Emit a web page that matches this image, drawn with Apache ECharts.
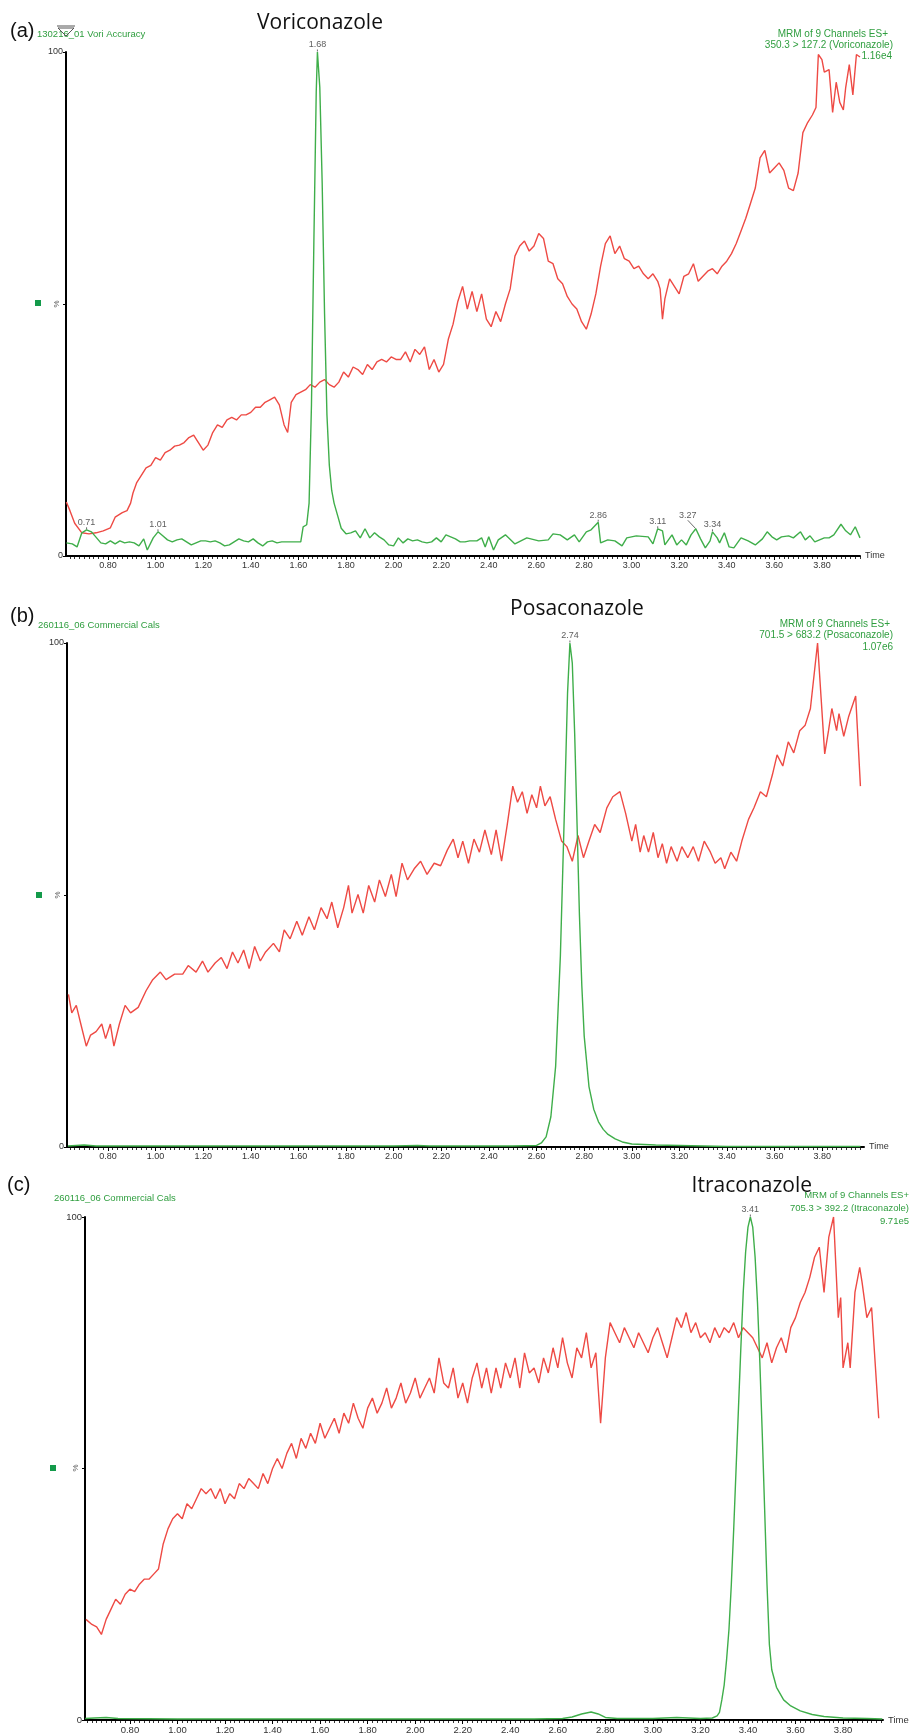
<!DOCTYPE html>
<html><head><meta charset="utf-8">
<script src="https://cdn.jsdelivr.net/npm/echarts@6/dist/echarts.min.js"></script>
<style>html,body{margin:0;padding:0;background:#fff}#c{width:912px;height:1735px}</style>
</head><body><div id="c"></div>
<script>
// ---------- tick labels ----------
const tickLabels = [0.8,1.0,1.2,1.4,1.6,1.8,2.0,2.2,2.4,2.6,2.8,3.0,3.2,3.4,3.6,3.8];
const yLabels = [0, 100];

// ---------- panel (a) Voriconazole ----------
const aRed = [[0.625,10.7],[0.64,9.0],[0.66,6.5],[0.69,4.6],[0.72,4.4],[0.75,4.6],[0.78,5.0],[0.81,5.6],[0.83,7.7],[0.86,8.6],[0.88,9.0],[0.895,10.5],[0.905,12.5],
[0.92,14.5],[0.94,16.0],[0.96,17.5],[0.98,18.0],[1.00,19.5],[1.02,19.0],[1.04,20.5],[1.06,21.0],[1.08,21.8],[1.10,22.0],[1.12,22.5],[1.14,23.5],[1.16,24.0],[1.18,22.5],[1.20,21.0],
[1.22,22.0],[1.24,24.5],[1.26,26.0],[1.28,25.5],[1.30,27.0],[1.32,27.5],[1.34,27.0],[1.36,28.0],[1.38,28.0],[1.40,28.5],[1.42,29.5],[1.44,29.5],[1.46,30.5],[1.48,31.0],[1.50,31.5],
[1.52,30.0],[1.54,26.0],[1.555,24.5],[1.57,30.5],[1.59,32.0],[1.61,32.5],[1.63,33.0],[1.65,34.0],[1.67,33.5],[1.69,34.5],[1.71,35.0],[1.73,34.0],[1.75,33.5],[1.77,34.5],[1.79,36.5],
[1.81,35.5],[1.83,37.5],[1.85,37.0],[1.87,36.0],[1.89,38.0],[1.91,37.0],[1.93,38.5],[1.95,39.0],[1.97,38.5],[1.99,39.5],[2.01,39.0],[2.03,39.0],[2.05,40.5],[2.07,38.5],[2.09,41.0],
[2.11,40.0],[2.13,41.5],[2.15,37.0],[2.17,39.0],[2.19,36.5],[2.21,38.0],[2.23,43.0],[2.25,46.0],[2.27,50.5],[2.29,53.5],[2.31,49.0],[2.33,52.5],[2.35,48.5],[2.37,52.0],[2.39,47.0],
[2.41,45.5],[2.43,48.5],[2.45,46.5],[2.47,50.0],[2.49,53.0],[2.51,59.5],[2.53,61.5],[2.55,62.5],[2.57,60.5],[2.59,61.5],[2.61,64.0],[2.63,63.0],[2.65,58.5],[2.67,58.0],[2.69,55.0],
[2.71,54.0],[2.73,51.5],[2.75,50.0],[2.77,49.0],[2.79,46.5],[2.81,45.0],[2.83,48.0],[2.85,52.0],[2.87,57.5],[2.89,62.0],[2.91,63.5],[2.93,60.0],[2.95,61.5],[2.97,59.0],[2.99,58.5],
[3.01,57.0],[3.03,57.5],[3.05,56.0],[3.07,55.0],[3.09,56.0],[3.11,54.5],[3.12,53.0],[3.13,47.0],[3.14,51.0],[3.16,55.0],[3.18,53.5],[3.20,52.0],[3.22,55.5],[3.24,56.0],[3.26,58.0],
[3.28,54.5],[3.30,55.5],[3.32,56.5],[3.34,57.0],[3.36,56.0],[3.38,57.5],[3.40,58.5],[3.42,60.0],[3.44,62.0],[3.46,64.5],[3.48,67.0],[3.50,70.0],[3.52,73.0],[3.54,79.0],[3.56,80.5],
[3.58,76.0],[3.60,77.0],[3.62,78.0],[3.64,76.5],[3.66,73.0],[3.68,72.5],[3.70,76.0],[3.72,84.0],[3.74,86.0],[3.76,87.5],[3.775,89.0],[3.785,99.5],[3.80,98.5],[3.81,96.0],[3.83,96.5],
[3.845,88.0],[3.86,94.0],[3.875,90.0],[3.89,88.5],[3.90,93.0],[3.915,97.5],[3.93,91.5],[3.945,99.5],[3.96,99.0]];
const aGreen = [[0.625,2.6],[0.65,2.4],[0.67,1.8],[0.69,4.6],[0.71,5.2],[0.73,4.8],[0.745,4.0],[0.77,2.6],[0.79,2.4],[0.81,3.0],[0.83,2.4],[0.85,3.0],[0.87,2.6],[0.89,2.8],[0.91,2.6],
[0.93,2.0],[0.95,3.4],[0.965,1.2],[0.99,3.6],[1.01,4.8],[1.03,4.0],[1.05,3.2],[1.07,2.8],[1.09,3.2],[1.11,3.4],[1.13,2.8],[1.15,2.2],[1.17,2.6],[1.19,3.0],[1.21,3.0],[1.23,2.8],
[1.25,3.0],[1.27,2.6],[1.29,2.0],[1.31,2.2],[1.33,2.8],[1.35,3.4],[1.37,3.0],[1.39,2.8],[1.41,3.4],[1.43,2.6],[1.45,2.0],[1.47,2.8],[1.49,3.0],[1.51,2.6],[1.53,2.8],[1.55,2.8],
[1.57,2.8],[1.59,2.8],[1.61,2.8],[1.62,5.8],[1.635,6.2],[1.645,10.5],[1.655,30],[1.665,62],[1.675,92],[1.68,100],[1.69,93],[1.70,74],[1.71,48],[1.72,28],[1.73,18],[1.74,13],
[1.75,10.5],[1.765,8],[1.78,5.5],[1.80,4.4],[1.82,4.6],[1.84,5.0],[1.86,3.6],[1.88,5.4],[1.90,3.6],[1.92,4.6],[1.94,3.8],[1.96,3.2],[1.98,2.2],[2.00,2.0],[2.02,3.6],[2.04,2.6],
[2.06,3.4],[2.08,3.0],[2.10,3.2],[2.12,2.8],[2.14,2.6],[2.16,2.8],[2.18,3.6],[2.20,2.8],[2.22,4.2],[2.24,3.8],[2.26,3.4],[2.28,2.8],[2.30,2.8],[2.32,3.0],[2.35,3.0],[2.37,3.6],
[2.385,1.8],[2.40,3.8],[2.42,1.2],[2.44,3.2],[2.47,4.2],[2.51,2.4],[2.56,3.6],[2.61,3.0],[2.65,3.2],[2.67,4.4],[2.70,4.2],[2.73,3.2],[2.76,4.2],[2.78,2.8],[2.81,4.8],[2.83,5.2],
[2.86,6.7],[2.87,2.6],[2.90,3.2],[2.93,3.0],[2.96,2.0],[2.98,3.6],[3.02,4.0],[3.07,3.8],[3.09,2.4],[3.11,5.4],[3.13,5.0],[3.14,2.2],[3.17,4.2],[3.19,2.2],[3.21,3.2],[3.23,2.2],
[3.25,4.2],[3.27,5.4],[3.29,3.4],[3.31,1.6],[3.33,3.0],[3.34,4.8],[3.36,3.6],[3.37,2.6],[3.39,4.6],[3.41,1.8],[3.43,1.6],[3.46,3.6],[3.49,3.0],[3.52,2.2],[3.55,3.4],[3.57,4.8],
[3.59,3.8],[3.61,3.2],[3.63,3.8],[3.66,4.0],[3.68,3.6],[3.71,4.8],[3.73,3.2],[3.75,4.0],[3.77,2.8],[3.79,3.2],[3.81,3.6],[3.83,3.6],[3.85,4.2],[3.88,6.3],[3.90,5.0],[3.92,4.2],
[3.94,5.8],[3.96,3.6]];
const aPeaks = [0.71,1.01,1.68,2.86,3.11,3.27,3.34];

// ---------- panel (b) Posaconazole ----------
const bRed = [[0.634,30.3],[0.648,26.6],[0.667,28.1],[0.686,24.4],[0.709,20.0],[0.727,22.2],[0.75,22.9],[0.774,24.4],[0.79,21.5],[0.81,24.4],[0.825,20.0],[0.848,24.4],[0.872,28.1],
[0.895,26.6],[0.927,27.7],[0.96,31.0],[0.988,33.2],[1.02,34.7],[1.044,33.2],[1.08,34.3],[1.114,34.3],[1.137,36.0],[1.17,34.7],[1.197,36.9],[1.22,34.7],[1.25,36.5],[1.276,37.6],
[1.30,35.4],[1.323,38.7],[1.346,36.5],[1.37,39.1],[1.393,35.4],[1.416,39.8],[1.44,36.9],[1.462,38.7],[1.495,40.4],[1.52,38.7],[1.54,43.1],[1.565,41.3],[1.593,44.8],[1.616,42.0],
[1.644,45.7],[1.667,43.1],[1.695,47.5],[1.72,45.3],[1.74,48.6],[1.765,43.5],[1.79,47.5],[1.81,51.9],[1.825,46.4],[1.85,50.1],[1.872,46.4],[1.895,51.9],[1.92,48.6],[1.94,53.0],
[1.965,49.7],[1.99,54.1],[2.01,49.7],[2.035,56.3],[2.058,53.0],[2.086,55.2],[2.113,56.7],[2.14,54.1],[2.17,56.3],[2.197,55.8],[2.225,58.9],[2.25,61.1],[2.27,57.4],[2.29,60.7],
[2.314,56.3],[2.337,61.1],[2.36,58.5],[2.383,62.9],[2.41,58.0],[2.43,62.9],[2.453,56.7],[2.477,64.0],[2.50,71.6],[2.52,68.4],[2.54,70.5],[2.56,66.2],[2.58,69.9],[2.60,67.3],
[2.616,71.6],[2.635,67.7],[2.657,69.5],[2.68,65.0],[2.705,60.7],[2.727,59.6],[2.75,56.7],[2.774,61.8],[2.797,57.4],[2.82,60.7],[2.844,64.0],[2.867,62.4],[2.895,67.3],[2.92,69.5],
[2.95,70.5],[2.974,66.2],[3.0,60.7],[3.016,64.0],[3.035,58.5],[3.05,61.8],[3.07,58.5],[3.09,62.4],[3.11,57.4],[3.128,60.2],[3.146,56.3],[3.165,59.6],[3.19,56.7],[3.21,59.6],
[3.235,57.4],[3.258,59.6],[3.28,56.7],[3.304,60.7],[3.33,58.5],[3.35,56.3],[3.374,57.4],[3.39,55.2],[3.416,58.5],[3.44,56.7],[3.462,60.7],[3.49,65.0],[3.513,67.3],[3.54,70.5],
[3.565,69.5],[3.59,73.8],[3.61,77.8],[3.634,75.6],[3.657,80.4],[3.68,78.2],[3.705,82.6],[3.728,83.7],[3.75,87.0],[3.78,100],[3.795,89.0],[3.81,78.0],[3.826,82.6],[3.84,87.0],
[3.86,82.6],[3.87,86.0],[3.89,81.5],[3.91,85.3],[3.94,89.5],[3.96,71.6]];
const bGreen = [[0.632,0.2],[0.70,0.4],[0.75,0.2],[1.00,0.2],[1.50,0.2],[2.00,0.2],[2.10,0.3],[2.15,0.2],[2.50,0.2],[2.60,0.3],[2.62,0.8],[2.64,2],[2.66,6],[2.68,16],[2.70,38],
[2.71,55],[2.72,72],[2.73,90],[2.74,100],[2.75,96],[2.76,82],[2.77,64],[2.78,46],[2.79,32],[2.80,22],[2.82,12],[2.84,7.5],[2.86,5],[2.88,3.5],[2.90,2.5],[2.93,1.6],[2.96,1.0],
[3.00,0.6],[3.10,0.4],[3.20,0.3],[3.30,0.2],[3.40,0.1],[3.96,0.1]];
const bPeaks = [2.74];

// ---------- panel (c) Itraconazole ----------
const cRed = [[0.615,20],[0.64,19],[0.66,18.5],[0.68,17],[0.70,20],[0.72,22],[0.74,24],[0.76,23],[0.78,25],[0.80,26],[0.82,25.5],[0.84,27],[0.86,28],[0.88,28],[0.90,29],[0.92,30],
[0.94,35],[0.96,38],[0.98,40],[1.00,41],[1.02,40],[1.04,43],[1.06,42],[1.08,44],[1.10,46],[1.12,45],[1.14,46],[1.16,44],[1.18,46],[1.20,43],[1.22,45],[1.24,44],[1.26,47],[1.28,46],
[1.30,48],[1.32,47],[1.34,46],[1.36,49],[1.38,47],[1.40,50],[1.42,52],[1.44,50],[1.46,53],[1.48,55],[1.50,52],[1.52,56],[1.54,54],[1.56,57],[1.58,55],[1.60,59],[1.62,56],[1.64,58],
[1.66,60],[1.68,57],[1.70,61],[1.72,59],[1.74,63],[1.76,60],[1.78,58],[1.80,62],[1.82,64],[1.84,61],[1.86,63],[1.88,66],[1.90,62],[1.92,64],[1.94,67],[1.96,63],[1.98,65],[2.00,68],
[2.02,64],[2.04,66],[2.06,68],[2.08,65],[2.10,72],[2.12,67],[2.14,66],[2.16,70],[2.18,64],[2.20,67],[2.22,63],[2.24,68],[2.26,71],[2.28,66],[2.30,70],[2.32,65],[2.34,70],[2.36,66],
[2.38,71],[2.40,68],[2.42,72],[2.44,66],[2.46,73],[2.48,69],[2.50,70],[2.52,67],[2.54,72],[2.56,69],[2.58,74],[2.60,70],[2.62,76],[2.64,71],[2.66,68],[2.68,74],[2.70,72],[2.72,77],
[2.74,70],[2.76,73],[2.78,59],[2.80,72],[2.82,79],[2.84,77],[2.86,75],[2.88,78],[2.90,76],[2.92,74],[2.94,77],[2.96,75],[2.98,73],[3.00,76],[3.02,78],[3.04,75],[3.06,72],[3.08,76],
[3.10,80],[3.12,78],[3.14,81],[3.16,77],[3.18,79],[3.20,76],[3.22,77],[3.24,75],[3.26,78],[3.28,76],[3.30,78],[3.32,77],[3.34,79],[3.36,76],[3.38,78],[3.40,77],[3.42,76],[3.44,74],
[3.46,72],[3.48,75],[3.50,71],[3.52,74],[3.54,76],[3.56,73],[3.58,78],[3.60,80],[3.62,83],[3.64,85],[3.66,88],[3.68,92],[3.70,94],[3.72,85],[3.74,96],[3.76,100],[3.77,90],[3.78,80],
[3.79,84],[3.80,70],[3.82,75],[3.83,70],[3.85,85],[3.87,90],[3.88,87],[3.90,80],[3.92,82],[3.95,60]];
const cGreen = [[0.612,0.3],[0.65,0.4],[0.70,0.5],[0.75,0.3],[1.00,0.2],[1.50,0.2],[2.00,0.2],[2.50,0.2],[2.62,0.3],[2.66,0.6],[2.70,1.2],[2.74,1.6],[2.77,1.2],[2.80,0.5],[2.85,0.3],
[3.00,0.3],[3.10,0.5],[3.15,0.4],[3.20,0.3],[3.25,0.4],[3.27,0.8],[3.28,1.5],[3.29,4],[3.30,7],[3.31,12],[3.32,18],[3.33,27],[3.34,38],[3.35,50],[3.36,62],[3.37,74],[3.38,85],
[3.39,93],[3.40,98],[3.41,100],[3.42,98],[3.43,92],[3.44,83],[3.45,71],[3.46,57],[3.47,42],[3.48,27],[3.49,15],[3.50,10],[3.52,6.5],[3.55,4],[3.58,2.8],[3.62,1.8],[3.67,1.1],
[3.72,0.7],[3.80,0.4],[3.90,0.3],[3.965,0.2]];
const cPeaks = [3.41];

// ---------- layout ----------
const RED = '#ee4a44', GREEN = '#3fae4a', TXTG = '#2f9e3f';
const panels = [
  {left:66, top:52, width:794, height:504, min:0.6235, max:3.96, red:aRed, green:aGreen, peaks:aPeaks, fs:9},
  {left:67, top:643, width:797, height:504, min:0.628, max:3.975, red:bRed, green:bGreen, peaks:bPeaks, fs:9},
  {left:85, top:1217, width:798, height:503, min:0.611, max:3.968, red:cRed, green:cGreen, peaks:cPeaks, fs:9.5}
];

const grid = [], xAxis = [], yAxis = [], series = [];
panels.forEach((p, i) => {
  grid.push({left:p.left, top:p.top, width:p.width, height:p.height, containLabel:false, outerBoundsMode:'none'});
  const minor = [];
  for (let k = 0; k <= 200; k++) { const v = +(k*0.02).toFixed(2); if (v >= p.min && v <= p.max) minor.push(v); }
  xAxis.push({
    type:'value', gridIndex:i, min:p.min, max:p.max, position:'bottom',
    axisLine:{show:true, onZero:false, lineStyle:{color:'#000', width:2}},
    axisTick:{show:true, customValues:tickLabels, length:4, lineStyle:{color:'#000', width:1}},
    axisLabel:{show:true, customValues:tickLabels, formatter:v=>v.toFixed(2), fontSize:p.fs, color:'#333', margin:5, fontFamily:'Liberation Sans, Arial'},
    splitLine:{show:false},
    name:'Time', nameLocation:'end', nameGap:5,
    nameTextStyle:{fontSize:p.fs, color:'#333', fontFamily:'Liberation Sans, Arial', verticalAlign:'middle'}
  });
  xAxis.push({
    type:'value', gridIndex:i, min:p.min, max:p.max, position:'bottom',
    axisLine:{show:false, onZero:false},
    axisTick:{show:true, customValues:minor, length:3, lineStyle:{color:'#000', width:0.8}},
    axisLabel:{show:false}, splitLine:{show:false}
  });
  yAxis.push({
    type:'value', gridIndex:i, min:0, max:100,
    axisLine:{show:true, lineStyle:{color:'#000', width:2}},
    axisTick:{show:true, customValues:[0,50,100], length:3, lineStyle:{color:'#000'}},
    axisLabel:{show:true, customValues:yLabels, fontSize:p.fs, color:'#333', margin:3, fontFamily:'Liberation Sans, Arial'},
    splitLine:{show:false}
  });
  series.push({type:'line', xAxisIndex:i*2, yAxisIndex:i, data:p.red, showSymbol:false, symbol:'none',
    lineStyle:{color:RED, width:1.4}, itemStyle:{color:RED}, z:2, silent:true});
  series.push({type:'line', xAxisIndex:i*2, yAxisIndex:i, data:p.green, showSymbol:false, symbol:'none',
    lineStyle:{color:GREEN, width:1.4}, itemStyle:{color:GREEN}, z:3, silent:true});
  series.push({type:'scatter', xAxisIndex:i*2, yAxisIndex:i, data:p.green.filter(d => p.peaks.includes(d[0])),
    symbolSize:1, itemStyle:{color:'rgba(0,0,0,0)'}, z:4, silent:true,
    label:{show:true, position:'top', distance:2, formatter:q=>q.value[0].toFixed(2), fontSize:9, color:'#333', fontFamily:'Liberation Sans, Arial'},
    labelLine:{show:true, lineStyle:{color:'#444', width:0.8}},
    labelLayout: q => (q.text === '3.27' ? {dx:-8, dy:-6} : {})
  });
});

function txt(x, y, text, opt) {
  opt = opt || {};
  return {type:'text', x:x, y:y, rotation:opt.rot || 0, z:10, silent:true,
    style:{text:text, fontSize:opt.fs || 10, fontFamily:opt.ff || 'Liberation Sans, Arial', fill:opt.fill || '#111',
      textAlign:opt.align || 'left', align:opt.align || 'left', textVerticalAlign:'middle', verticalAlign:'middle'}};
}
const TITLE = 'Open Sans';
const graphic = [
  // panel a
  txt(10, 31, '(a)', {fs:20}),
  txt(37, 34, '130216_01 Vori Accuracy', {fs:9.5, fill:TXTG}),
  {type:'polyline', shape:{points:[[58,28],[74,28],[66,36],[58,28]]}, style:{stroke:'#555', fill:null, lineWidth:1}, z:11, silent:true},
  {type:'line', shape:{x1:57, y1:26, x2:75, y2:26}, style:{stroke:'#555', lineWidth:1}, z:11, silent:true},
  txt(320, 23, 'Voriconazole', {fs:21, ff:TITLE, align:'center'}),
  txt(888, 34, 'MRM of 9 Channels ES+', {fs:10, fill:TXTG, align:'right'}),
  txt(893, 45, '350.3 > 127.2 (Voriconazole)', {fs:10, fill:TXTG, align:'right'}),
  txt(892, 56, '1.16e4', {fs:10, fill:TXTG, align:'right'}),
  {type:'rect', shape:{x:35, y:300, width:6, height:6}, style:{fill:'#139a4a'}, z:10, silent:true},
  txt(57, 304, '%', {fs:8, fill:'#555', align:'center', rot:Math.PI/2}),
  // panel b
  txt(10, 616, '(b)', {fs:20}),
  txt(38, 625, '260116_06 Commercial Cals', {fs:9.5, fill:TXTG}),
  txt(577, 609, 'Posaconazole', {fs:21, ff:TITLE, align:'center'}),
  txt(890, 624, 'MRM of 9 Channels ES+', {fs:10, fill:TXTG, align:'right'}),
  txt(893, 635, '701.5 > 683.2 (Posaconazole)', {fs:10, fill:TXTG, align:'right'}),
  txt(893, 647, '1.07e6', {fs:10, fill:TXTG, align:'right'}),
  {type:'rect', shape:{x:36, y:892, width:6, height:6}, style:{fill:'#139a4a'}, z:10, silent:true},
  txt(58, 895, '%', {fs:8, fill:'#555', align:'center', rot:Math.PI/2}),
  // panel c
  txt(7, 1185, '(c)', {fs:20}),
  txt(54, 1198, '260116_06 Commercial Cals', {fs:9.5, fill:TXTG}),
  txt(812, 1186, 'Itraconazole', {fs:21, ff:TITLE, align:'right'}),
  txt(909, 1195, 'MRM of 9 Channels ES+', {fs:9.5, fill:TXTG, align:'right'}),
  txt(909, 1208, '705.3 > 392.2 (Itraconazole)', {fs:9.5, fill:TXTG, align:'right'}),
  txt(909, 1221, '9.71e5', {fs:9.5, fill:TXTG, align:'right'}),
  {type:'rect', shape:{x:50, y:1465, width:6, height:6}, style:{fill:'#139a4a'}, z:10, silent:true},
  txt(76, 1468, '%', {fs:8, fill:'#555', align:'center', rot:Math.PI/2})
];

const chart = echarts.init(document.getElementById('c'), null, {renderer:'canvas'});
chart.setOption({animation:false, backgroundColor:'#fff', grid, xAxis, yAxis, series, graphic});
</script>
</body></html>
